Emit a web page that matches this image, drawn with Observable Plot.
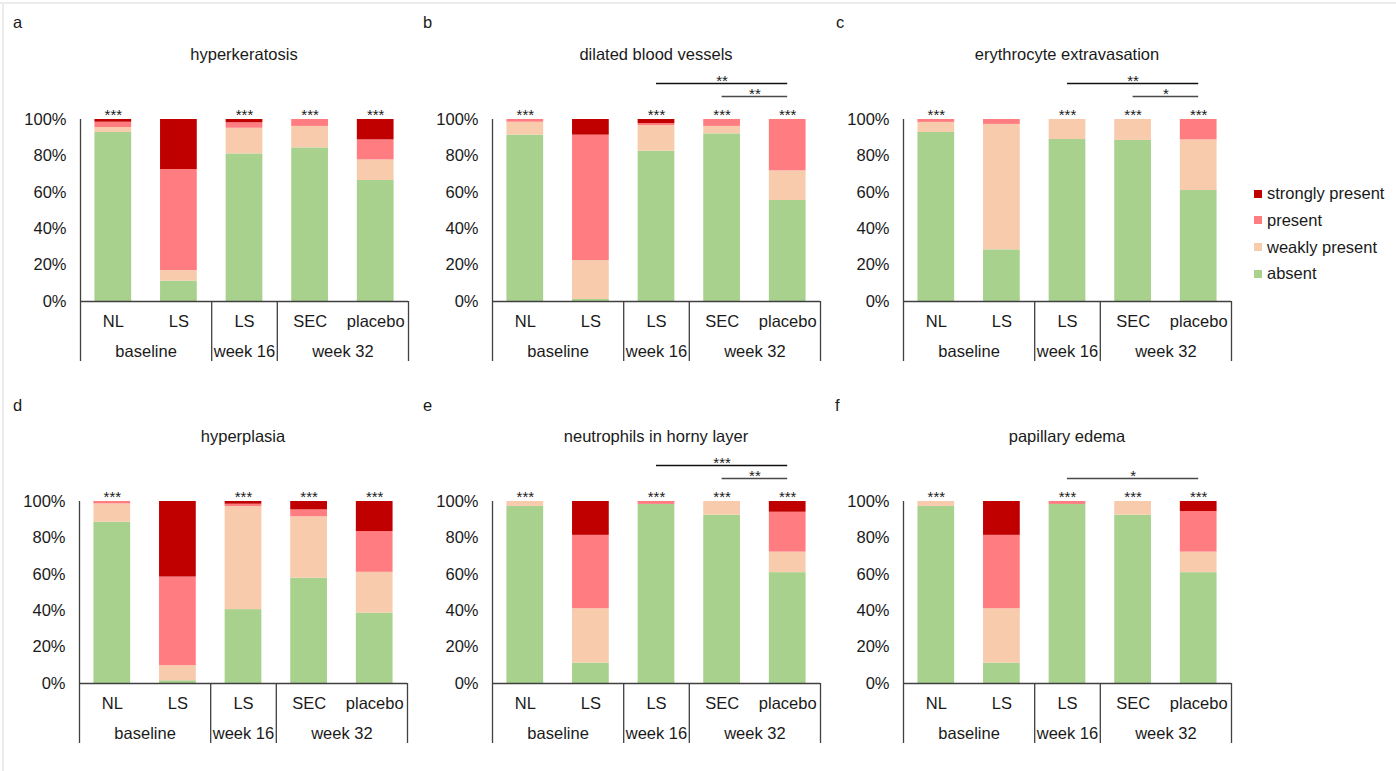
<!DOCTYPE html>
<html>
<head>
<meta charset="utf-8">
<script src="https://cdn.jsdelivr.net/npm/d3@7"></script>
<script src="https://cdn.jsdelivr.net/npm/@observablehq/plot@0.6"></script>
<style>
  html, body { margin: 0; padding: 0; background: #fff; }
  body { font-family: "Liberation Sans", Arial, sans-serif; color: #1a1a1a; }
  #fig { position: relative; width: 1396px; height: 771px; overflow: hidden; background: #fff; }
  .frameTop { position: absolute; left: 0; top: 2px; width: 1396px; border-top: 2px solid #ececec; }
  .frameLeft { position: absolute; left: 2px; top: 2px; height: 771px; border-left: 2px solid #ececec; }
  .panel { position: absolute; }
  .panel svg { background: transparent !important; }
  .letter { position: absolute; font-size: 16.5px; line-height: 1; transform: translateY(-50%); }
  .title { position: absolute; font-size: 16.5px; line-height: 1; white-space: nowrap; transform: translate(-50%, -50%); }
  .legend { position: absolute; left: 1254px; top: 183px; font-size: 16.5px; z-index: 5; }
  .legend .item { position: absolute; left: 0; white-space: nowrap; height: 20px; line-height: 20px; }
  .legend .sw { display: inline-block; width: 8px; height: 8px; vertical-align: middle; margin-right: 5px; position: relative; top: -1px; }
</style>
</head>
<body>
<div id="fig">
  <div class="frameTop"></div>
  <div class="frameLeft"></div>
</div>
<script>
// ---------- data ----------
const categories = ["NL", "LS", "LS", "SEC", "placebo"];
const groupLabels = ["baseline", "week 16", "week 32"];
const groupSpans = [[0, 1], [2, 2], [3, 4]];
const levels = ["absent", "weakly present", "present", "strongly present"];
const levelColors = ["#A9D18E", "#F8CBAD", "#FF7C80", "#C00000"];
const barStars = ["***", "", "***", "***", "***"];

// percentages per level (absent, weakly present, present, strongly present) for NL, LS, LS wk16, SEC, placebo
const hyperkeratosis = [
  [92.9, 11.2, 81.1, 84.4, 66.5],
  [2.7, 5.8, 14.1, 11.8, 11.3],
  [2.9, 55.5, 3.0, 3.8, 11.0],
  [1.5, 27.5, 1.8, 0, 11.2]
];
const dilatedBloodVessels = [
  [91.4, 1.1, 82.6, 92.1, 55.5],
  [7.1, 21.4, 14.1, 4.1, 16.3],
  [1.5, 68.9, 1.1, 3.8, 28.2],
  [0, 8.6, 2.2, 0, 0]
];
const erythrocyteExtravasation = [
  [92.9, 28.4, 89.0, 88.5, 61.0],
  [5.5, 68.9, 11.0, 11.5, 27.8],
  [1.6, 2.7, 0, 0, 11.2],
  [0, 0, 0, 0, 0]
];
const hyperplasia = [
  [88.6, 1.5, 40.6, 57.8, 38.7],
  [10.1, 8.3, 56.6, 33.8, 22.4],
  [1.3, 48.7, 1.3, 3.8, 22.4],
  [0, 41.5, 1.5, 4.6, 16.5]
];
const neutrophils = [
  [97.3, 11.2, 98.4, 92.5, 60.9],
  [2.7, 29.9, 0, 7.5, 11.3],
  [0, 40.3, 1.6, 0, 21.9],
  [0, 18.6, 0, 0, 5.9]
];
const papillaryEdema = [
  [97.3, 11.2, 98.4, 92.5, 60.9],
  [2.7, 29.9, 0, 7.5, 11.3],
  [0, 40.3, 1.6, 0, 22.3],
  [0, 18.6, 0, 0, 5.5]
];

// significance brackets: [from bar, to bar, tier, label]
const bracketsA = [];
const bracketsB = [[2, 4, 2, "**"], [3, 4, 1, "**"]];
const bracketsC = [[2, 4, 2, "**"], [3, 4, 1, "*"]];
const bracketsD = [];
const bracketsE = [[2, 4, 2, "***"], [3, 4, 1, "**"]];
const bracketsF = [[2, 4, 1, "*"]];

const panelLetters = ["a", "b", "c", "d", "e", "f"];
const panelTitles = ["hyperkeratosis", "dilated blood vessels", "erythrocyte extravasation",
                     "hyperplasia", "neutrophils in horny layer", "papillary edema"];
const panelValues = [hyperkeratosis, dilatedBloodVessels, erythrocyteExtravasation, hyperplasia, neutrophils, papillaryEdema];
const panelBrackets = [bracketsA, bracketsB, bracketsC, bracketsD, bracketsE, bracketsF];

// ---------- layout ----------
const layouts = [
  {left: 0,   top: 0,   width: 420, ml: 80, mr: 12, letterX: 13},
  {left: 420, top: 0,   width: 420, ml: 72, mr: 20, letterX: 423},
  {left: 840, top: 0,   width: 410, ml: 63, mr: 19, letterX: 836},
  {left: 0,   top: 382, width: 420, ml: 79, mr: 13, letterX: 13},
  {left: 420, top: 382, width: 420, ml: 72, mr: 20, letterX: 423},
  {left: 840, top: 382, width: 410, ml: 63, mr: 19, letterX: 835}
];
const MT = 119, MB = 79, H = 380;
const tierDy = {1: -23, 2: -36};
const barHalf = 0.28;
const axisColor = "#404040";
const starSize = 15;

const fig = document.getElementById("fig");

function makePanel(k) {
  const vals = panelValues[k];
  const L = layouts[k];
  const rows = [];
  categories.forEach((c, i) => {
    let acc = 0;
    levels.forEach((lv, j) => {
      const v = vals[j][i] / 100;
      if (v > 0) rows.push({i, level: lv, y1: acc, y2: acc + v});
      acc += v;
    });
  });
  const separators = groupSpans.map(s => s[1] + 0.5);
  const br = panelBrackets[k];
  const tierMarks = [];
  [1, 2].forEach(t => {
    const sub = br.filter(d => d[2] === t);
    if (!sub.length) return;
    tierMarks.push(Plot.ruleY(sub, {y: 1, x1: d => d[0], x2: d => d[1], dy: tierDy[t],
      stroke: t === 2 ? "#111" : "#4a4a4a", strokeWidth: 1.3}));
    tierMarks.push(Plot.text(sub, {x: d => (d[0] + d[1]) / 2, y: 1, dy: tierDy[t] - 2, text: d => d[3], fontSize: starSize}));
  });
  const chart = Plot.plot({
    width: L.width, height: H,
    marginLeft: L.ml, marginRight: L.mr, marginTop: MT, marginBottom: MB,
    style: {fontSize: "16.5px", fontFamily: "'Liberation Sans', Arial, sans-serif", color: "#1a1a1a", background: "transparent", overflow: "visible"},
    x: {domain: [-0.5, categories.length - 0.5], axis: null},
    y: {domain: [0, 1], ticks: [0, 0.2, 0.4, 0.6, 0.8, 1], tickFormat: d3.format(".0%"), tickSize: 0, tickPadding: 14, label: null},
    color: {domain: levels, range: levelColors},
    marks: [
      Plot.rect(rows, {x1: d => d.i - barHalf, x2: d => d.i + barHalf, y1: "y1", y2: "y2", fill: "level"}),
      Plot.ruleY([0], {x1: -0.5, x2: categories.length - 0.5, stroke: axisColor, strokeWidth: 1.3}),
      Plot.ruleX([-0.5], {y1: 1, y2: 0, insetBottom: -60, stroke: axisColor, strokeWidth: 1.3}),
      Plot.ruleX(separators, {y1: 0, y2: 0, insetBottom: -60, stroke: axisColor, strokeWidth: 1.3}),
      Plot.text(categories, {x: (d, i) => i, y: 0, dy: 20, text: d => d}),
      Plot.text(groupLabels, {x: (d, i) => (groupSpans[i][0] + groupSpans[i][1]) / 2, y: 0, dy: 50, text: d => d}),
      Plot.text(barStars, {x: (d, i) => i, y: 1, dy: -4, text: d => d, fontSize: starSize}),
      ...tierMarks
    ]
  });
  const div = document.createElement("div");
  div.className = "panel";
  div.style.left = L.left + "px";
  div.style.top = L.top + "px";
  div.style.width = L.width + "px";
  div.appendChild(chart);
  fig.appendChild(div);

  // letter and title
  const letter = document.createElement("div");
  letter.className = "letter";
  letter.textContent = panelLetters[k];
  letter.style.left = L.letterX + "px";
  letter.style.top = (L.top + (k < 3 ? 22 : 23)) + "px";
  fig.appendChild(letter);
  const title = document.createElement("div");
  title.className = "title";
  title.textContent = panelTitles[k];
  title.style.left = (L.left + L.ml + (L.width - L.ml - L.mr) / 2) + "px";
  title.style.top = (L.top + 54) + "px";
  fig.appendChild(title);
}

for (let k = 0; k < 6; k++) makePanel(k);

// legend (top-down: strongly present ... absent)
const legend = document.createElement("div");
legend.className = "legend";
levels.slice().reverse().forEach((lv, j) => {
  const item = document.createElement("div");
  item.className = "item";
  item.style.top = (j * 26.8) + "px";
  const sw = document.createElement("span");
  sw.className = "sw";
  sw.style.background = levelColors[levels.indexOf(lv)];
  item.appendChild(sw);
  item.appendChild(document.createTextNode(lv));
  legend.appendChild(item);
});
fig.appendChild(legend);
</script>
</body>
</html>
